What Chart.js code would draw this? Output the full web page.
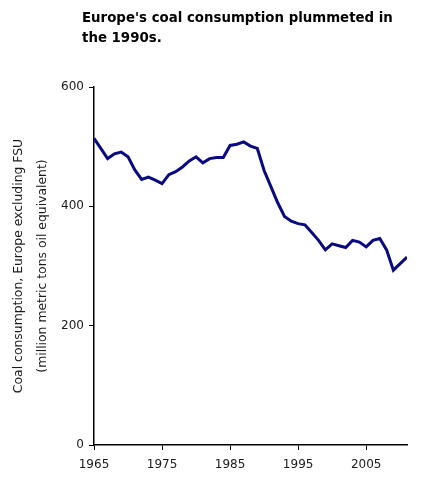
<!DOCTYPE html>
<html>
<head>
<meta charset="utf-8">
<style>
  html, body { margin: 0; padding: 0; background: #fff; }
  #wrap { position: relative; width: 424px; height: 486px; }
  #title {
    position: absolute; left: 82px; top: 8px;
    font: bold 13.35px "DejaVu Sans", Verdana, sans-serif;
    line-height: 20px; color: #000;
  }
</style>
</head>
<body>
<div id="wrap">
  <div id="title">Europe's coal consumption plummeted in<br>the 1990s.</div>
  <canvas id="coalChart" width="424" height="486"></canvas>
</div>
<script src="https://cdn.jsdelivr.net/npm/chart.js@4.4.1/dist/chart.umd.min.js"></script>
<script>
const years = [1965, 1966, 1967, 1968, 1969, 1970, 1971, 1972, 1973, 1974,
               1975, 1976, 1977, 1978, 1979, 1980, 1981, 1982, 1983, 1984,
               1985, 1986, 1987, 1988, 1989, 1990, 1991, 1992, 1993, 1994,
               1995, 1996, 1997, 1998, 1999, 2000, 2001, 2002, 2003, 2004,
               2005, 2006, 2007, 2008, 2009, 2010, 2011];
const coalUse = [514, 497, 480, 488, 491, 483, 461, 445, 449, 444,
                 438, 453, 458, 466, 476, 483, 473, 480, 482, 482,
                 502, 504, 508, 501, 497, 460, 433, 406, 383, 375,
                 371, 369, 356, 343, 327, 337, 334, 331, 343, 340,
                 332, 343, 346, 327, 293, 304, 315];
const xTicks = [1965, 1975, 1985, 1995, 2005];
const yTicks = [0, 200, 400, 600];

const tickFont = { family: '"DejaVu Sans", Verdana, sans-serif', size: 12 };

const ctx = document.getElementById('coalChart').getContext('2d');
new Chart(ctx, {
    type: 'line',
    data: {
        datasets: [{
            data: years.map((y, i) => ({ x: y, y: coalUse[i] })),
            borderColor: '#0a0a80',
            borderWidth: 3,
            pointRadius: 0,
            tension: 0
        }]
    },
    options: {
        responsive: false,
        animation: false,
        layout: { padding: { top: 87, right: 17, left: 7, bottom: 0 } },
        plugins: { legend: { display: false }, tooltip: { enabled: false } },
        scales: {
            x: {
                type: 'linear',
                min: 1965,
                max: 2011,
                afterBuildTicks: s => { s.ticks = xTicks.map(v => ({ value: v })); },
                afterFit: s => { s.height = 41; },
                ticks: { callback: v => String(v), color: '#1a1a1a', font: tickFont, padding: 8, maxRotation: 0 },
                grid: { display: true, drawOnChartArea: false, drawTicks: true, tickLength: 5, color: '#000' },
                border: { display: true, color: '#000', width: 1.5 }
            },
            y: {
                min: 0,
                max: 600,
                afterBuildTicks: s => { s.ticks = yTicks.map(v => ({ value: v })); },
                afterFit: s => { s.width = 87; },
                ticks: { color: '#1a1a1a', font: tickFont, padding: 5 },
                grid: { display: true, drawOnChartArea: false, drawTicks: true, tickLength: 5, color: '#000' },
                border: { display: true, color: '#000', width: 1.5 },
                title: {
                    display: true,
                    text: ['Coal consumption, Europe excluding FSU', '(million metric tons oil equivalent)'],
                    color: '#1a1a1a',
                    font: { family: '"DejaVu Sans", Verdana, sans-serif', size: 12.4, lineHeight: 1.9 },
                    padding: 0
                }
            }
        }
    }
});
</script>
</body>
</html>
